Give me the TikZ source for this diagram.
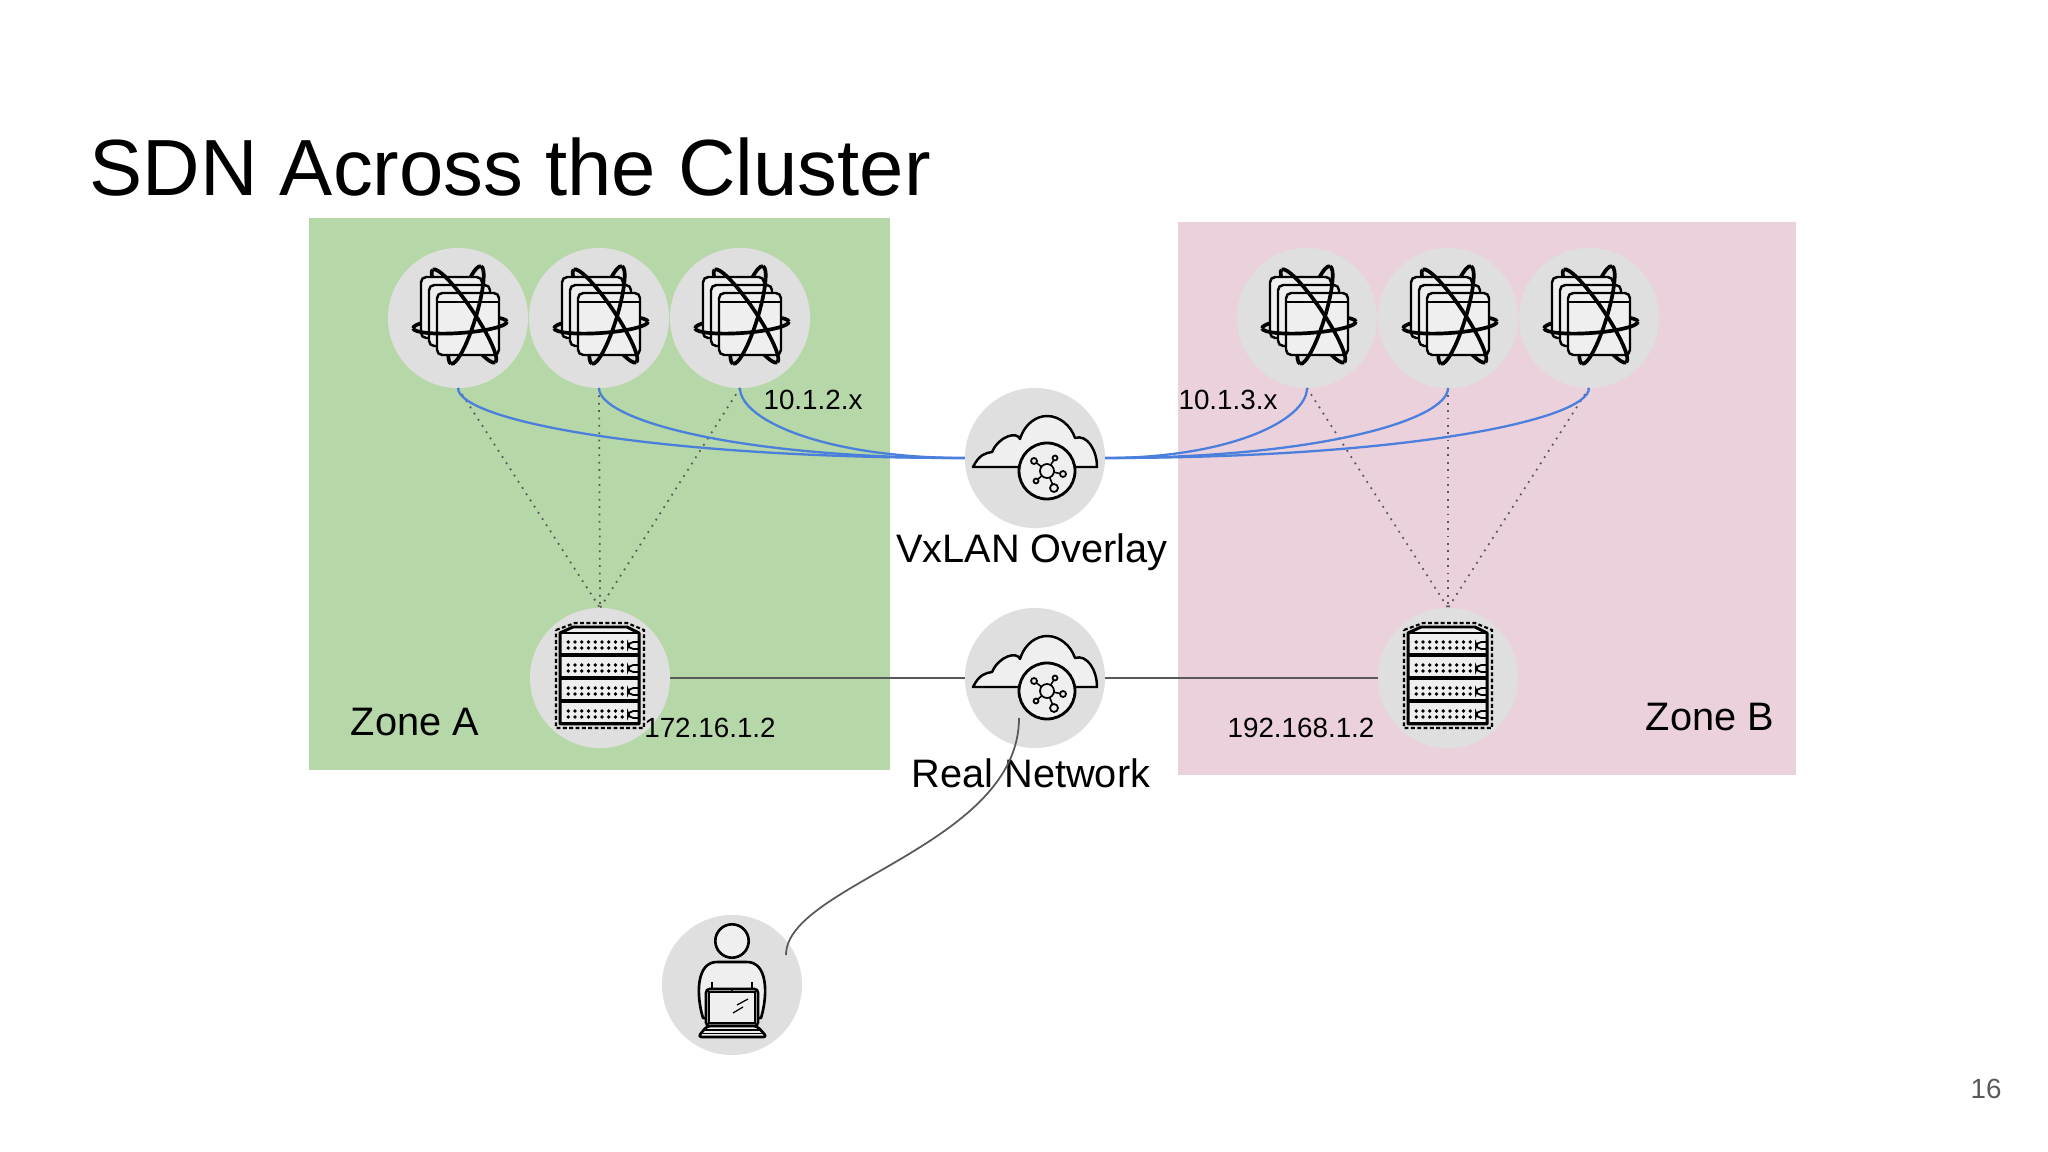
\documentclass[tikz,border=0pt]{standalone}
\usepackage{fontspec}
\setmainfont{Liberation Sans}
\usetikzlibrary{positioning,calc}

\definecolor{zonegreen}{HTML}{B6D7A8}
\definecolor{zonepink}{HTML}{EAD1DC}
\definecolor{hubgray}{HTML}{DFDFDF}
\definecolor{iconfill}{HTML}{EFEFEF}
\definecolor{overlayblue}{HTML}{4A7FDC}
\definecolor{wiregray}{HTML}{595959}

\tikzset{
	hub/.style={circle, fill=hubgray, minimum size=1.4cm, inner sep=0pt, outer sep=0pt},
	icon/.style={line width=0.7pt, draw=black, fill=iconfill, line join=round},
	overlaylink/.style={draw=overlayblue, line width=0.65pt},
	podlink/.style={draw=wiregray, line width=0.5pt, dash pattern=on 0.5pt off 1.6pt},
	reallink/.style={draw=wiregray, line width=0.5pt},
	sidelabel/.style={font=\fontsize{11.3}{13}\selectfont, inner sep=0pt},
	addrlabel/.style={font=\fontsize{7.9}{10}\selectfont, inner sep=0pt},
	pods/.pic={
		% the back halves of the rings go behind the windows
		\begin{scope}[line width=1.05pt]
			\draw[shift={(6,-2)},rotate=-56] (56,0) arc[start angle=0,end angle=180,x radius=56,y radius=10];
			\draw[shift={(8,-3)},rotate=-107] (51,0) arc[start angle=0,end angle=180,x radius=51,y radius=10];
			\draw[shift={(2,7)},rotate=4] (47,0) arc[start angle=360,end angle=180,x radius=47,y radius=8];
		\end{scope}
		\draw[icon, rounded corners=1.5pt] (-37,-41) rectangle (24,20);
		\draw[icon, rounded corners=1.5pt] (-29,-33) rectangle (32,28);
		\draw[icon, rounded corners=1.5pt] (-21,-25) rectangle (41,37);
		\draw[line width=0.4pt] (-21,-16) -- (41,-16);
		\begin{scope}[line width=1.05pt]
			\draw[shift={(6,-2)},rotate=-56] (-56,0) arc[start angle=180,end angle=360,x radius=56,y radius=10];
			\draw[shift={(8,-3)},rotate=-107] (-51,0) arc[start angle=180,end angle=360,x radius=51,y radius=10];
			\draw[shift={(2,7)},rotate=4] (47,0) arc[start angle=0,end angle=180,x radius=47,y radius=8];
		\end{scope}
	},
	cloudhub/.pic={
		\draw[icon] (-62,9) .. controls (-56,-3) and (-50,-5) .. (-43,-6)
			.. controls (-36,-22) and (-18,-27) .. (-15,-19)
			.. controls (-10,-35) and (2,-42) .. (12,-42)
			.. controls (25,-42) and (36,-32) .. (40,-20)
			.. controls (52,-24) and (62,-8) .. (62,9) -- cycle;
		\draw[icon, line width=0.8pt] (12,13) circle [radius=28];
		\draw[line width=0.45pt] (-1,3) -- (12,13) (20,0) -- (12,13) (28,16) -- (12,13) (1,23) -- (12,13) (19,30) -- (12,13);
		\draw[icon, line width=0.5pt] (12,13) circle [radius=7];
		\foreach \sx/\sy/\sr in {-1/3/3,20/0/2.5,28/16/3,1/23/2.5,19/30/4}
			\draw[icon, line width=0.5pt] (\sx,\sy) circle [radius=\sr];
	},
	rack/.pic={
		\draw[line width=0.6pt, dash pattern=on 1.1pt off 0.7pt] (-44,-48) -- (-25,-55) -- (27,-55) -- (44,-48) -- (44,50) -- (-44,50) -- cycle;
		\draw[icon, line width=0.85pt] (-40,-45) -- (-27,-51) -- (27,-51) -- (39,-45) -- (39,46) -- (-40,46) -- cycle;
		\foreach \uy in {-45,-22,1,24} {
			\draw[line width=0.55pt] (-40,\uy) rectangle (39,\uy+21);
			\foreach \dx in {0,...,8} {
				\fill (-31.7+\dx*6.75,\uy+9) circle [radius=1.9];
				\fill (-31.7+\dx*6.75,\uy+15) circle [radius=1.9];
			}
			\draw[line width=0.5pt, rounded corners=1.5pt] (39,\uy+9) -- (28,\uy+9) -- (28,\uy+16) -- (39,\uy+16);
		}
	},
	viewer/.pic={
		\draw[icon, line width=0.75pt] (0,-44) circle [radius=16.7];
		\draw[icon, line width=0.75pt] (-29,33) .. controls (-36,10) and (-36,-24) .. (-14,-23) -- (14,-23)
			.. controls (36,-24) and (36,10) .. (29,33) -- cycle;
		\draw[line width=0.7pt] (-20,-3) -- (-20,4) (20,-3) -- (20,4);
		\draw[icon, line width=0.75pt, rounded corners=1pt] (-26,4) rectangle (26,41);
		\draw[line width=0.5pt] (-23,7) rectangle (23,38);
		\fill (0,6) circle [radius=1.2];
		\draw[line width=0.35pt] (5,20) -- (16,14) (1,28) -- (11,22);
		\draw[icon, line width=0.75pt, rounded corners=1pt] (-25,41) -- (25,41) -- (35,52) -- (-34,52) -- cycle;
		\draw[line width=0.35pt] (-28,45) -- (28,45) (-31,48.5) -- (31,48.5);
	}
}

\begin{document}
\begin{tikzpicture}[x=0.01cm,y=-0.01cm]
	\useasboundingbox (0,0) rectangle (2048,1152);
	\fill[zonegreen] (309,218) rectangle (890,770);
	\fill[zonepink] (1178,222) rectangle (1796,775);
	\node[anchor=base west, inner sep=0pt, font=\fontsize{22.65}{27}\selectfont] (title) at (89,196) {SDN Across the Cluster};
	% nodes
	\foreach \x/\name in {458/podAa,599/podAb,740/podAc,1307/podBa,1448/podBb,1589/podBc} {
		\node[hub] (\name) at (\x,318) {};
		\pic at (\name) {pods};
	}
	\node[hub] (overlay) at (1035,458) {};
	\pic at (overlay) {cloudhub};
	\node[hub] (realnet) at (1035,678) {};
	\pic at (realnet) {cloudhub};
	\node[hub] (serverA) at (600,678) {};
	\pic at (serverA) {rack};
	\node[hub] (serverB) at (1448,678) {};
	\pic at (serverB) {rack};
	\node[hub] (user) at (732,985) {};
	\pic at (user) {viewer};
	% connectors
	\foreach \name in {podAa,podAb,podAc,podBa,podBb,podBc} {
		\coordinate (\name top) at ($(\name)+(0,70)$);
	}
	\foreach \name in {podAa,podAb,podAc}
		\draw[podlink] (\name top) -- (serverA.north);
	\foreach \name in {podBa,podBb,podBc}
		\draw[podlink] (\name top) -- (serverB.north);
	\foreach \name/\pull in {podAa/315,podAb/228,podAc/140}
		\draw[overlaylink] (\name top) .. controls +(0,32) and +(-\pull,0) .. (overlay.west);
	\foreach \name/\pull in {podBa/125,podBb/213,podBc/300}
		\draw[overlaylink] (\name top) .. controls +(0,32) and +(\pull,0) .. (overlay.east);
	\draw[reallink] (serverA.east) -- (realnet.west);
	\draw[reallink] (realnet.east) -- (serverB.west);
	\coordinate (userlink) at (786,955);
	\coordinate (netlink) at (1019,718);
	% labels
	\node[sidelabel] (overlaytext) at (1032,552) {VxLAN Overlay};
	\node[sidelabel] (realtext) at (1031,773) {Real Network};
	\node[sidelabel] (zoneA) at (415,722) {Zone A};
	\node[sidelabel] (zoneB) at (1710,717) {Zone B};
	\node[addrlabel] (netA) at (813,400) {10.1.2.x};
	\node[addrlabel] (netB) at (1228,400) {10.1.3.x};
	\node[addrlabel] (addrA) at (710,728) {172.16.1.2};
	\node[addrlabel] (addrB) at (1301,728) {192.168.1.2};
	\node[addrlabel, text=wiregray] (page) at (1986,1089) {16};
	\draw[reallink] (userlink) .. controls +(0,-70) and +(0,127) .. (netlink);
\end{tikzpicture}
\end{document}
